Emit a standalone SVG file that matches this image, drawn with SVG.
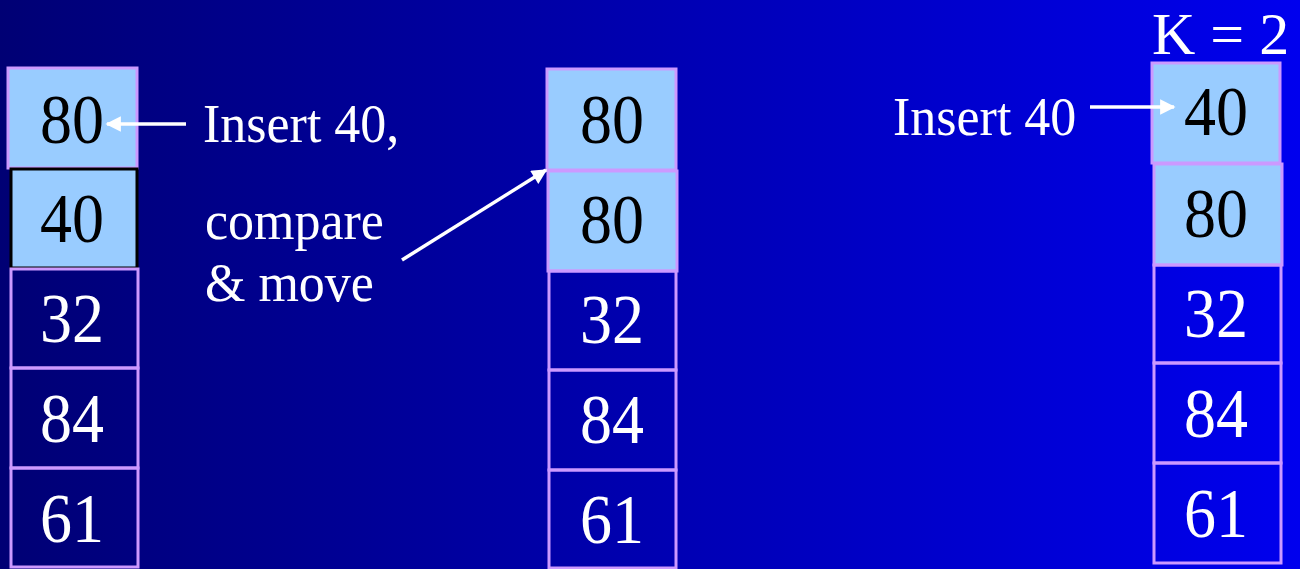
<svg xmlns="http://www.w3.org/2000/svg" width="1300" height="569" viewBox="0 0 1300 569">
<defs>
<linearGradient id="bg" x1="0" y1="0" x2="1" y2="0">
<stop offset="0" stop-color="#000074"/>
<stop offset="1" stop-color="#0000ee"/>
</linearGradient>
<marker id="ah" viewBox="0 0 10 10" refX="9" refY="5" markerWidth="5" markerHeight="4.4" orient="auto" markerUnits="strokeWidth">
<path d="M0,0 L10,5 L0,10 Z" fill="#ffffff"/>
</marker>
<style>
.lb{fill:#99ccff;stroke:#cc99ff;stroke-width:3}
.dk{fill:none;stroke:#cc99ff;stroke-width:3}
.bk{fill:#99ccff;stroke:#000000;stroke-width:3}
.nb{font-family:"Liberation Serif","Times New Roman",serif;font-size:64px;fill:#000000;text-anchor:middle}
.nw{font-family:"Liberation Serif","Times New Roman",serif;font-size:64px;fill:#ffffff;text-anchor:middle}
.lbl{font-family:"Liberation Serif","Times New Roman",serif;font-size:52px;fill:#ffffff}
.arr{stroke:#ffffff;stroke-width:3.5;fill:none;marker-end:url(#ah)}
</style>
</defs>
<rect width="1300" height="569" fill="url(#bg)"/>

<g id="left-col">
<g id="L1"><rect class="lb" x="8" y="68" width="129" height="100"/><text class="nb" transform="translate(72,143) scale(1,1.1)">80</text></g>
<g id="L2"><rect class="bk" x="11" y="169" width="126" height="99"/><text class="nb" transform="translate(72,242) scale(1,1.1)">40</text></g>
<g id="L3"><rect class="dk" x="11" y="269" width="127" height="99"/><text class="nw" transform="translate(72,342) scale(1,1.1)">32</text></g>
<g id="L4"><rect class="dk" x="11" y="368" width="127" height="100"/><text class="nw" transform="translate(72,442) scale(1,1.1)">84</text></g>
<g id="L5"><rect class="dk" x="11" y="468" width="127" height="99"/><text class="nw" transform="translate(72,542) scale(1,1.1)">61</text></g>
</g>

<g id="mid-col">
<g id="M1"><rect class="lb" x="547" y="69" width="129" height="101"/><text class="nb" transform="translate(612,143) scale(1,1.1)">80</text></g>
<g id="M2"><rect class="lb" x="548" y="171" width="129" height="100"/><text class="nb" transform="translate(612,243) scale(1,1.1)">80</text></g>
<g id="M3"><rect class="dk" x="549" y="271" width="127" height="99"/><text class="nw" transform="translate(612,343) scale(1,1.1)">32</text></g>
<g id="M4"><rect class="dk" x="549" y="370" width="127" height="100"/><text class="nw" transform="translate(612,443) scale(1,1.1)">84</text></g>
<g id="M5"><rect class="dk" x="549" y="470" width="127" height="98"/><text class="nw" transform="translate(612,543) scale(1,1.1)">61</text></g>
</g>

<g id="right-col">
<g id="R1"><rect class="lb" x="1152" y="63" width="128" height="100"/><text class="nb" transform="translate(1216,135) scale(1,1.1)">40</text></g>
<g id="R2"><rect class="lb" x="1154" y="164" width="128" height="101"/><text class="nb" transform="translate(1216,237) scale(1,1.1)">80</text></g>
<g id="R3"><rect class="dk" x="1154" y="265" width="127" height="98"/><text class="nw" transform="translate(1216,337) scale(1,1.1)">32</text></g>
<g id="R4"><rect class="dk" x="1154" y="363" width="127" height="100"/><text class="nw" transform="translate(1216,437) scale(1,1.1)">84</text></g>
<g id="R5"><rect class="dk" x="1154" y="463" width="127" height="100"/><text class="nw" transform="translate(1216,537) scale(1,1.1)">61</text></g>
</g>

<g id="labels">
<text class="lbl" transform="translate(203,142) scale(1,1.05)">Insert 40,</text>
<text class="lbl" transform="translate(205,239) scale(1,1.05)">compare</text>
<text class="lbl" transform="translate(205,301) scale(1,1.05)">&amp; move</text>
<text class="lbl" transform="translate(893,135) scale(1,1.05)">Insert 40</text>
<text class="lbl" x="1152" y="54" style="font-size:60px">K = 2</text>
</g>

<g id="connectors">
<line class="arr" x1="186" y1="124" x2="107" y2="124"/>
<line class="arr" x1="402" y1="260" x2="546" y2="170"/>
<line class="arr" x1="1090" y1="107" x2="1174" y2="107"/>
</g>
</svg>
